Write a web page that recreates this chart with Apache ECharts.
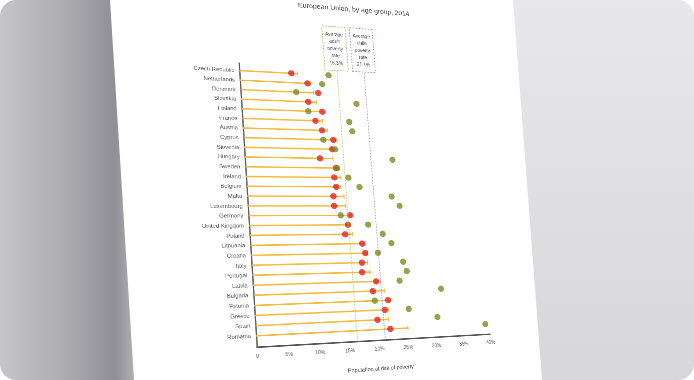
<!DOCTYPE html>
<html><head><meta charset="utf-8">
<script src="https://cdn.jsdelivr.net/npm/echarts@6/dist/echarts.min.js"></script>
<style>
html,body{margin:0;padding:0;background:#fff;width:694px;height:380px;overflow:hidden;}
#frame{position:absolute;left:0;top:0;width:694px;height:380px;border-radius:16px;overflow:hidden;background:#fff;}
#leftbg{position:absolute;left:0;top:0;width:140px;height:380px;clip-path:polygon(0 0,110px 0,134px 380px,0 380px);background:linear-gradient(90deg,#c6c6ca 0%,#a9a9ae 50%,#8f8f95 82%,#b9b9bd 100%);}
#rightbg{position:absolute;left:500px;top:0;width:194px;height:380px;clip-path:polygon(13px 0,194px 0,194px 380px,42px 380px);background:linear-gradient(180deg,#e8e8ea,#d7d7da);}
#chart{position:absolute;left:0;top:0;width:720px;height:840px;transform-origin:0 0;}
</style></head>
<body>
<div id="frame"><div id="leftbg"></div><div id="rightbg"></div><div id="chart"></div></div>
<script>
// ---- data ----
const countries = ['Czech Republic','Netherlands','Denmark','Slovakia','Finland','France','Austria','Cyprus','Slovenia','Hungary','Sweden','Ireland','Belgium','Malta','Luxembourg','Germany','United Kingdom','Poland','Lithuania','Croatia','Italy','Portugal','Latvia','Bulgaria','Estonia','Greece','Spain','Romania'];
const totalRate = [9.5,11.6,12.0,12.4,12.8,13.2,13.9,15.3,14.6,14.5,15.2,15.6,15.5,15.9,16.0,16.9,16.6,16.9,19.0,19.2,19.1,19.4,21.0,21.7,22.5,22.1,21.9,25.2];
const adultRate = [8.5,11.1,12.8,11.0,13.3,12.0,13.0,14.8,14.5,12.3,14.9,14.5,14.7,14.1,14.1,16.7,16.2,15.6,18.4,18.8,18.1,18.0,20.3,19.6,22.1,21.4,20.0,22.1];
const childRate = [14.8,13.6,9.1,19.3,10.9,17.8,18.2,13.1,15.0,24.9,15.1,16.9,18.7,24.2,25.5,15.1,19.7,22.1,23.5,21.0,25.3,25.8,24.4,31.7,19.8,25.6,30.6,39.3];
const xTickLabels = ['0','5%','10%','15%','20%','25%','30%','35%','40%'];
const avgAdult = 16.3;
const avgChild = 21.1;
const titleText = 'European Union, by age group, 2014';
const xName = 'Population at risk of poverty';

// ---- layout (flat page) ----
const W = 720, H = 840;
const GL = 200, GT = 200, GW = 480, GH = 568;
const FONT = "'Liberation Sans', Arial, sans-serif";

// perspective of the photographed page
function homography(src, dst){
  const A=[],B=[];
  for(let i=0;i<4;i++){
    const [x,y]=src[i],[X,Y]=dst[i];
    A.push([x,y,1,0,0,0,-x*X,-y*X]);B.push(X);
    A.push([0,0,0,x,y,1,-x*Y,-y*Y]);B.push(Y);
  }
  const n=8;
  for(let c=0;c<n;c++){
    let p=c;for(let r=c+1;r<n;r++)if(Math.abs(A[r][c])>Math.abs(A[p][c]))p=r;
    [A[c],A[p]]=[A[p],A[c]];[B[c],B[p]]=[B[p],B[c]];
    for(let r=0;r<n;r++){if(r===c)continue;const f=A[r][c]/A[c][c];for(let k=c;k<n;k++)A[r][k]-=f*A[c][k];B[r]-=f*B[c];}
  }
  return B.map((b,i)=>b/A[i][i]);
}
const [a,b,c,d,e,f,g,h] = homography(
  [[GL,GT],[GL,GT+GH],[GL+GW,GT+GH],[GL+GW,GT]],
  [[239,63],[257,347],[490,334],[466,75.5]]
);
const el = document.getElementById('chart');
el.style.transform = `matrix3d(${a},${d},0,${g},${b},${e},0,${h},0,0,1,0,${c},${f},0,1)`;

const chart = echarts.init(el, null, {renderer:'svg', width:W, height:H});

const boxLabel = (txt, col) => ({
  show:true, position:'end', formatter:txt, color:'#444', fontSize:10, lineHeight:15.5,
  fontFamily:FONT, align:'center', padding:[8,5], borderColor:col, borderType:'dotted',
  borderWidth:1.6, backgroundColor:'#fff', distance:0
});

chart.setOption({
  animation:false,
  backgroundColor:'transparent',
  title:{text:titleText, right:W-568, top:56, textStyle:{fontSize:14.5, fontWeight:'normal', color:'#444', fontFamily:FONT}},
  grid:{left:GL, top:GT, width:GW, height:GH},
  xAxis:{type:'value', min:0, max:40, interval:5,
    axisLine:{show:true, onZero:false, lineStyle:{color:'#555', width:3}},
    axisTick:{show:false}, splitLine:{show:false},
    axisLabel:{color:'#555', fontSize:10, fontFamily:FONT, margin:12, formatter:v=>xTickLabels[Math.round(v/5)]},
    name:xName, nameLocation:'middle', nameGap:52, nameTextStyle:{color:'#444', fontSize:11, fontFamily:FONT}
  },
  yAxis:{type:'value', inverse:true, min:-0.8, max:28.1,
    axisLine:{show:true, onZero:false, lineStyle:{color:'#555', width:2.5}},
    axisTick:{show:false}, splitLine:{show:false}, axisLabel:{show:false}
  },
  series:[
    {type:'custom', name:'total', data:totalRate.map((v,i)=>[v,i]), encode:{x:0,y:1}, z:2,
      renderItem:(params, api)=>{
        const i=api.value(1), v=api.value(0);
        const p0=api.coord([0,i]), p1=api.coord([v,i]);
        return {type:'group', children:[
          {type:'line', shape:{x1:p0[0],y1:p0[1],x2:p1[0],y2:p1[1]}, style:{stroke:'#f3bb3c', lineWidth:3}},
          {type:'line', shape:{x1:p1[0],y1:p1[1]-4.5,x2:p1[0],y2:p1[1]+4.5}, style:{stroke:'#f3bb3c', lineWidth:2}}
        ]};
      }
    },
    {type:'custom', name:'labels', data:countries.map((n,i)=>[0,i]), encode:{x:0,y:1}, z:2,
      renderItem:(params, api)=>{
        const i=api.value(1); const p=api.coord([0,i]);
        return {type:'text', x:p[0]-10, y:p[1], style:{text:countries[i], fill:'#555', fontSize:11, fontFamily:FONT, align:'right', verticalAlign:'middle'}};
      }
    },
    {type:'scatter', name:'adult', data:adultRate.map((v,i)=>[v,i]), symbolSize:13, itemStyle:{color:'#e2201b'}, z:4},
    {type:'scatter', name:'child', data:childRate.map((v,i)=>[v,i]), symbolSize:13, itemStyle:{color:'#7b8b22'}, z:5,
      markLine:{silent:true, symbol:['none','none'], animation:false,
        data:[
          [{coord:[avgAdult,28.1], lineStyle:{color:'#b3c35e', type:'dotted', width:1.6}, label:boxLabel('Average\nadult\npoverty\nrate\n16.3%','#a9bd5d')},{coord:[avgAdult,-0.6]}],
          [{coord:[avgChild,28.1], lineStyle:{color:'#a98bc2', type:'dotted', width:1.6}, label:boxLabel('Average\nchild\npoverty\nrate\n21.1%','#b07cc6')},{coord:[avgChild,-0.6]}]
        ]
      }
    }
  ]
});
</script>
</body></html>
